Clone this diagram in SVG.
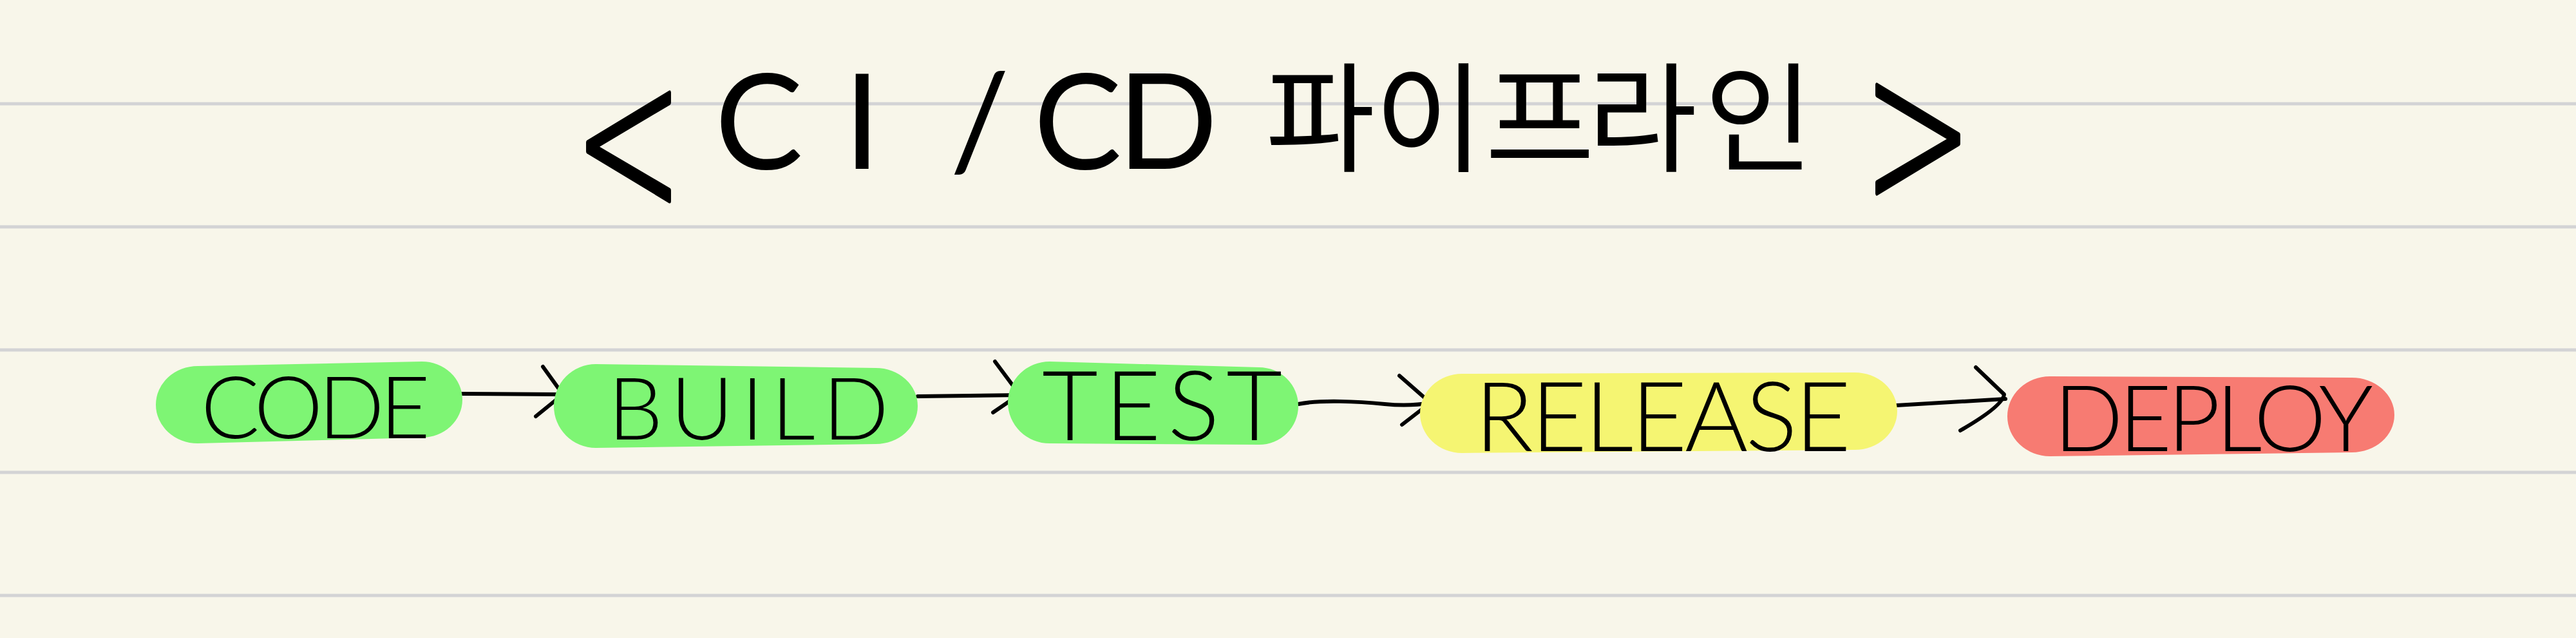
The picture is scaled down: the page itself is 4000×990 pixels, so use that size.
<svg xmlns="http://www.w3.org/2000/svg" width="4000" height="990" viewBox="0 0 4000 990">
<style>
.rule{stroke:#d3d3d5;stroke-width:5}
.blob-g{fill:#7ef574}
.blob-y{fill:#f5f572}
.blob-r{fill:#f77b72}
.lbl{font-family:Lato,"Liberation Sans",sans-serif;font-weight:300;fill:#000}
.ttl{font-family:Lato,"Liberation Sans","Noto Sans CJK KR",sans-serif;font-weight:400;fill:#000;font-size:205px}
.br{font-family:"DejaVu Sans",sans-serif;font-weight:200;font-size:340px;text-anchor:middle;fill:#000;stroke:#000;stroke-width:7;stroke-linejoin:round}
.kr{font-family:"Noto Sans CJK KR",sans-serif;font-size:185px}
.ln{fill:none;stroke:#000;stroke-width:6;stroke-linecap:round;stroke-linejoin:round}
</style>
<rect width="4000" height="990" fill="#f8f6ea"/>
<g id="rules">
<line class="rule" x1="0" y1="161" x2="4000" y2="161"/>
<line class="rule" x1="0" y1="352" x2="4000" y2="352"/>
<line class="rule" x1="0" y1="543" x2="4000" y2="543"/>
<line class="rule" x1="0" y1="733" x2="4000" y2="733"/>
<line class="rule" x1="0" y1="924" x2="4000" y2="924"/>
</g>
<g id="title">
<text class="br" transform="translate(976 334) scale(0.6 1)">&lt;</text>
<text class="ttl"><tspan x="1110 1310" y="262">CI</tspan><tspan x="1475">/</tspan><tspan x="1605 1735">CD</tspan><tspan class="kr" x="1965 2134 2306 2465 2646" y="252">파이프라인</tspan></text>
<text class="br" transform="translate(2978 322) scale(0.6 1)">&gt;</text>
</g>
<g id="connectors">
<path class="ln" d="M717 611 L873 612"/>
<path class="ln" d="M843 569 L874 612 L832 646"/>
<path class="ln" d="M1425 615 L1583 613"/>
<path class="ln" d="M1545 561 L1583 612 L1542 640"/>
<path class="ln" d="M2016 627 C2050 620 2110 623 2150 627 C2180 630 2205 628 2222 625"/>
<path class="ln" d="M2173 583 L2221 625 L2177 659"/>
<path class="ln" d="M2928 637 Q2930 630 2945 629 L3114 619"/>
<path class="ln" d="M3068 570 L3112 612 Q3110 630 3044 668"/>
</g>
<g id="node-code">
<path class="blob-g" d="M307 568 L655 561 A63 59 0 0 1 655 679 L307 688 A65 60 0 0 1 307 568 Z"/>
<text class="lbl" x="312" y="680" font-size="135" textLength="356" lengthAdjust="spacing">CODE</text>
</g>
<g id="node-build">
<path class="blob-g" d="M925 565 L1360 571 A65 59 0 0 1 1360 689 L925 695 A65 65 0 0 1 925 565 Z"/>
<text class="lbl" x="944" y="682" font-size="135" textLength="436" lengthAdjust="spacing">BUILD</text>
</g>
<g id="node-test">
<path class="blob-g" d="M1630 561 L1955 570 A61 60 0 0 1 1955 690 L1630 688 A65 63.5 0 0 1 1630 561 Z"/>
<text class="lbl" x="1618" y="683" font-size="150" textLength="373" lengthAdjust="spacing">TEST</text>
</g>
<g id="node-release">
<path class="blob-y" d="M2270 580 L2880 578 A66 60 0 0 1 2880 698 L2270 703 A65 61.5 0 0 1 2270 580 Z"/>
<text class="lbl" x="2290" y="700" font-size="150" textLength="584" lengthAdjust="spacing">RELEASE</text>
</g>
<g id="node-deploy">
<path class="blob-r" d="M3183 584 L3652 586 A66 58 0 0 1 3652 702 L3183 708 A66 62 0 0 1 3183 584 Z"/>
<text class="lbl" x="3189" y="700" font-size="142" textLength="496" lengthAdjust="spacing">DEPLOY</text>
</g>
</svg>
